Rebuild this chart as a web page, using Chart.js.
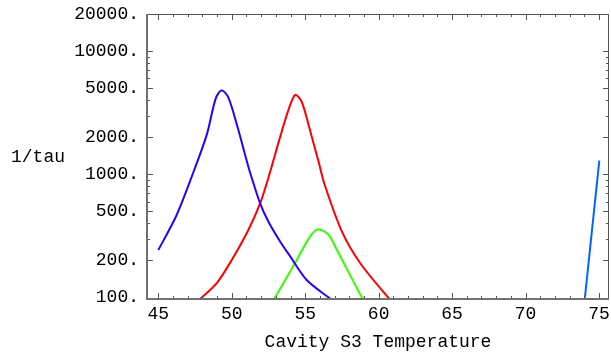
<!DOCTYPE html>
<html>
<head>
<meta charset="utf-8">
<script src="https://cdn.jsdelivr.net/npm/chart.js@4"></script>
<style>
  html, body { margin: 0; background: #fff; }
</style>
</head>
<body>
<canvas id="c" width="611" height="356"></canvas>
<script>
// 1/tau against cavity S3 temperature, log y axis, framed plot

const X_TICKS = [45, 50, 55, 60, 65, 70, 75];
const Y_TICKS = [100, 200, 500, 1000, 2000, 5000, 10000, 20000];

// first mode
const blueT = [45, 46.25, 47.4, 48.3, 48.9, 49.3, 49.75, 50.36, 51.03, 51.25, 51.93, 52.5, 53.3, 54.0, 55.1, 56.6, 56.8];
const blueV = [243, 468, 1050, 2100, 4100, 4800, 4250, 2500, 1270, 1030, 582, 413, 284, 214, 139, 100, 96];

// second mode
const redT = [47.8, 47.96, 48.98, 50.0, 51.13, 51.93, 52.45, 53.3, 53.86, 54.32, 54.75, 55.23, 55.57, 55.91, 56.3, 57.5, 58.75, 60.68, 60.85];
const redV = [96, 100, 131, 202, 354, 582, 900, 2023, 3333, 4420, 3900, 2518, 1780, 1268, 840, 343, 190, 99, 96];

// third mode
const greenT = [52.8, 52.95, 54.3, 55.33, 55.9, 56.6, 57.16, 58.86, 59.0];
const greenV = [95, 100, 190, 312, 358, 322, 243, 100, 95];

// high-temperature branch
const cyanT = [74.04, 75.02];
const cyanV = [100, 1290];

const FONT = { family: "'Liberation Mono', 'Courier New', monospace", size: 18 };

const pts = (t, v) => t.map((x, i) => ({ x, y: v[i] }));

const line = (t, v, color) => ({
  data: pts(t, v),
  borderColor: color,
  borderWidth: 2,
  pointRadius: 0,
  fill: false,
  tension: 0.3,
});

// box, inward ticks on all four sides, horizontal axis titles
const frame = {
  id: 'frame',
  afterDatasetsDraw(chart) {
    const { ctx, chartArea: a, scales: { x, y } } = chart;
    ctx.save();
    ctx.strokeStyle = '#555';
    ctx.lineWidth = 1;
    ctx.beginPath();
    for (let v = 45; v <= 75; v++) {
      const px = Math.round(x.getPixelForValue(v)) + 0.5;
      const len = v % 5 === 0 ? 6 : 3;
      ctx.moveTo(px, a.bottom); ctx.lineTo(px, a.bottom - len);
      ctx.moveTo(px, a.top); ctx.lineTo(px, a.top + len);
    }
    for (let d = 100; d <= 10000; d *= 10) {
      for (let m = 1; m <= 9; m++) {
        const v = m * d;
        if (v > 20000) break;
        const py = Math.round(y.getPixelForValue(v)) + 0.5;
        const len = Y_TICKS.includes(v) ? 6 : 3;
        ctx.moveTo(a.left, py); ctx.lineTo(a.left + len, py);
        ctx.moveTo(a.right, py); ctx.lineTo(a.right - len, py);
      }
    }
    ctx.stroke();
    ctx.strokeRect(a.left + 0.5, a.top + 0.5, a.right - a.left - 1, a.bottom - a.top - 1);

    // heavier axis lines on the left and bottom
    ctx.strokeStyle = '#707070';
    ctx.lineWidth = 2;
    ctx.beginPath();
    ctx.moveTo(a.left, a.top); ctx.lineTo(a.left, a.bottom); ctx.lineTo(a.right, a.bottom);
    ctx.stroke();

    ctx.fillStyle = '#000';
    ctx.font = `${FONT.size}px ${FONT.family}`;
    ctx.textBaseline = 'middle';
    ctx.textAlign = 'left';
    ctx.fillText('1/tau', 11, 157);
    ctx.textAlign = 'center';
    ctx.fillText('Cavity S3 Temperature', (a.left + a.right) / 2, 342);
    ctx.restore();
  }
};

new Chart(document.getElementById('c'), {
  type: 'line',
  data: {
    datasets: [
      line(blueT, blueV, '#2b00ff'),
      line(redT, redV, '#ff0000'),
      line(greenT, greenV, '#33ff00'),
      line(cyanT, cyanV, '#0066ff'),
    ],
  },
  options: {
    responsive: false,
    animation: false,
    layout: { padding: { top: 14, right: 2, left: 0, bottom: 0 } },
    plugins: { legend: { display: false }, tooltip: { enabled: false } },
    scales: {
      x: {
        type: 'linear',
        min: 44.23,
        max: 75.68,
        afterBuildTicks: s => { s.ticks = X_TICKS.map(value => ({ value })); },
        afterFit: s => { s.height = 57; s.paddingLeft = 0; s.paddingRight = 0; },
        ticks: { font: FONT, color: '#000', padding: 4, autoSkip: false, maxRotation: 0, callback: v => String(v) },
        grid: { display: false, drawTicks: false },
        border: { display: false },
      },
      y: {
        type: 'logarithmic',
        min: 97.4,
        max: 20000,
        afterBuildTicks: s => { s.ticks = Y_TICKS.map(value => ({ value })); },
        afterFit: s => { s.width = 147; s.paddingTop = 0; s.paddingBottom = 0; },
        ticks: { font: FONT, color: '#000', padding: 8, autoSkip: false, callback: v => v + '.' },
        grid: { display: false, drawTicks: false },
        border: { display: false },
      },
    },
  },
  plugins: [frame],
});
</script>
</body>
</html>
